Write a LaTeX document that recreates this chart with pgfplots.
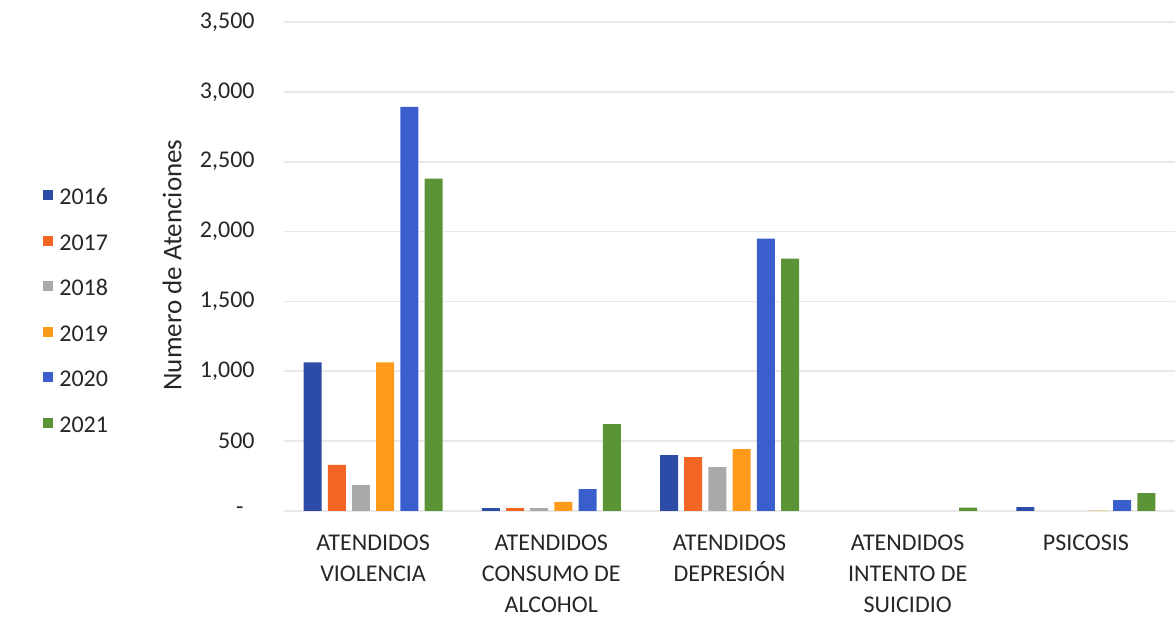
\documentclass[border=0pt]{standalone}
\usepackage{fontspec}
\setmainfont{Carlito}
\usepackage{pgfplots}
\pgfplotsset{compat=1.18}
\definecolor{c16}{HTML}{2C4CA8}
\definecolor{c17}{HTML}{F26522}
\definecolor{c18}{HTML}{A9A9A9}
\definecolor{c19}{HTML}{FF9A1A}
\definecolor{c20}{HTML}{3A5FCD}
\definecolor{c21}{HTML}{5A9437}
\definecolor{gridc}{HTML}{E9E9E9}
\begin{document}
\begin{tikzpicture}
\useasboundingbox (-142pt,-56.5pt) rectangle (446pt,255.5pt);
\begin{axis}[
  scale only axis,
  width=445.5pt, height=244.5pt,
  xmin=-0.5, xmax=4.5,
  ymin=0, ymax=3500,
  axis line style={draw=none},
  major tick length=0pt,
  ymajorgrids, grid style={gridc, line width=0.8pt},
  ytick={0,500,1000,1500,2000,2500,3000,3500},
  yticklabels={{-\kern5.5pt},{500},{1,000},{1,500},{2,000},{2,500},{3,000},{3,500}},
  yticklabel style={font=\fontsize{12}{14}\selectfont, text=black!85, inner sep=0pt, anchor=east, xshift=-14.5pt},
  xtick={0,1,2,3,4},
  xticklabels={{ATENDIDOS\\VIOLENCIA},{ATENDIDOS\\CONSUMO DE\\ALCOHOL},{ATENDIDOS\\DEPRESIÓN},{ATENDIDOS\\INTENTO DE\\SUICIDIO},{PSICOSIS}},
  xticklabel style={font=\fontsize{12}{15.5}\selectfont, text=black!85, align=center, inner sep=0pt, anchor=north, yshift=-12pt},
  ylabel={Numero de Atenciones},
  ylabel style={font=\fontsize{13.5}{16}\selectfont, text=black!85, at={(axis description cs:-0.1257,0.503)}, anchor=center},
  ybar, bar width=0.101,
  every axis plot/.append style={draw=none},
  legend style={draw=none, fill=none, at={(-0.2772,0.41)}, anchor=west,
    font=\fontsize{12}{14}\selectfont, text=black!85,
    nodes={inner sep=0pt, text height=8pt, text depth=0pt},
    row sep=14.8pt, column sep=3pt},
  legend cell align=left,
  legend image code/.code={\fill[#1] (0pt,-1.7pt) rectangle (5pt,3.3pt);},
]
\addplot[fill=c16, bar shift=-0.3395] coordinates {(0,1064) (1,20) (2,400) (4,28)};
\addlegendentry{2016}
\addplot[fill=c17, bar shift=-0.2037] coordinates {(0,330) (1,20) (2,386)};
\addlegendentry{2017}
\addplot[fill=c18, bar shift=-0.0679] coordinates {(0,186) (1,20) (2,314)};
\addlegendentry{2018}
\addplot[fill=c19, bar shift=0.0679] coordinates {(0,1064) (1,65) (2,443) (4,3)};
\addlegendentry{2019}
\addplot[fill=c20, bar shift=0.2037] coordinates {(0,2893) (1,157) (2,1950) (4,78)};
\addlegendentry{2020}
\addplot[fill=c21, bar shift=0.3395] coordinates {(0,2379) (1,621) (2,1807) (3,25) (4,128)};
\addlegendentry{2021}
\end{axis}
\end{tikzpicture}
\end{document}
